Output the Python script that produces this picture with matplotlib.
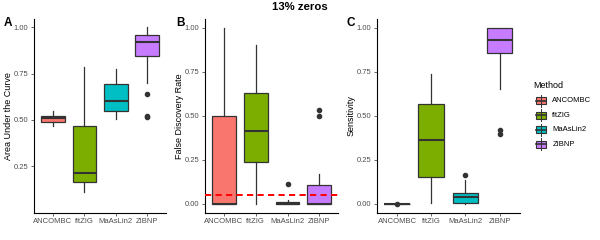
import matplotlib
matplotlib.use("Agg")
import matplotlib.pyplot as plt
from matplotlib.patches import Rectangle

plt.rcParams['font.family'] = ['Liberation Sans', 'DejaVu Sans']

# Methods and their ggplot-style colours
methods = ["ANCOMBC", "fitZIG", "MaAsLin2", "ZIBNP"]
colors = ["#F8766D", "#7CAE00", "#00BFC4", "#C77CFF"]

# Panel A - Area Under the Curve (box summaries)
auc_lo = [0.466, 0.114, 0.507, 0.701]
auc_q1 = [0.490, 0.168, 0.547, 0.844]
auc_med = [0.508, 0.216, 0.604, 0.921]
auc_q3 = [0.523, 0.465, 0.696, 0.958]
auc_hi = [0.550, 0.788, 0.775, 1.000]
auc_out = [[], [], [], [0.641, 0.523, 0.515]]

# Panel B - False Discovery Rate
fdr_lo = [0.0, 0.0, 0.0, 0.0]
fdr_q1 = [0.0, 0.236, 0.0, 0.0]
fdr_med = [0.0, 0.414, 0.0, 0.0]
fdr_q3 = [0.5, 0.627, 0.011, 0.108]
fdr_hi = [1.0, 0.904, 0.023, 0.172]
fdr_out = [[], [], [0.113], [0.533, 0.497]]
fdr_target = 0.05

# Panel C - Sensitivity
sens_lo = [0.0, 0.006, 0.0, 0.652]
sens_q1 = [0.0, 0.153, 0.006, 0.856]
sens_med = [0.0, 0.361, 0.037, 0.928]
sens_q3 = [0.0, 0.567, 0.062, 1.0]
sens_hi = [0.0, 0.739, 0.134, 1.0]
sens_out = [[0.0], [], [0.164], [0.417, 0.399]]

W, H = 600, 240
fig = plt.figure(figsize=(6, 2.4), dpi=100)

EDGE = "#333333"
TICK = "#4D4D4D"


def px_axes(left, right, top, bottom):
    return fig.add_axes([left / W, 1 - bottom / H, (right - left) / W, (bottom - top) / H])


def draw_panel(ax, lo, q1, med, q3, hi, out, ylim):
    stats = []
    for i in range(len(methods)):
        stats.append(dict(whislo=lo[i], q1=q1[i], med=med[i], q3=q3[i],
                          whishi=hi[i], fliers=out[i]))
    bp = ax.bxp(stats, positions=range(1, 5), widths=0.75, patch_artist=True,
                showcaps=False,
                boxprops=dict(edgecolor=EDGE, linewidth=0.9),
                medianprops=dict(color=EDGE, linewidth=1.5, solid_capstyle='butt'),
                whiskerprops=dict(color=EDGE, linewidth=0.9),
                flierprops=dict(marker='o', markerfacecolor=EDGE, markeredgecolor=EDGE,
                                markersize=3, linestyle='none'))
    for patch, c in zip(bp['boxes'], colors):
        patch.set_facecolor(c)
    ax.set_xlim(0.4, 4.6)
    ax.set_ylim(*ylim)
    ax.set_yticks([0.0, 0.25, 0.5, 0.75, 1.0])
    ax.set_xticks(range(1, 5))
    ax.set_xticklabels(methods)
    for s in ['top', 'right']:
        ax.spines[s].set_visible(False)
    for s in ['left', 'bottom']:
        ax.spines[s].set_color('black')
        ax.spines[s].set_linewidth(0.8)
    ax.tick_params(axis='both', labelsize=5.5, labelcolor=TICK, color=TICK,
                   length=2.5, width=0.6, pad=1.5)


axA = px_axes(34, 166, 19, 212.7)
draw_panel(axA, auc_lo, auc_q1, auc_med, auc_q3, auc_hi, auc_out, (0.0697, 1.0443))
axA.set_yticks([0.25, 0.5, 0.75, 1.0])
axA.set_yticklabels(["0.25", "0.50", "0.75", "1.00"])

axB = px_axes(205, 338.3, 19, 212.7)
draw_panel(axB, fdr_lo, fdr_q1, fdr_med, fdr_q3, fdr_hi, fdr_out, (-0.05, 1.05))
axB.set_yticklabels(["0.00", "0.25", "0.50", "0.75", "1.00"])
dash = axB.axhline(fdr_target, color='red', linewidth=1.4, zorder=5)
dash.set_dashes([3.2, 2.2])

axC = px_axes(376.7, 520, 19, 212.7)
draw_panel(axC, sens_lo, sens_q1, sens_med, sens_q3, sens_hi, sens_out, (-0.05, 1.05))
axC.set_yticklabels(["0.00", "0.25", "0.50", "0.75", "1.00"])

# y-axis labels
fig.text(8.5 / W, 1 - 116 / H, "Area Under the Curve", rotation=90, ha='center', va='center', fontsize=6.5)
fig.text(180 / W, 1 - 116 / H, "False Discovery Rate", rotation=90, ha='center', va='center', fontsize=6.5)
fig.text(351 / W, 1 - 116 / H, "Sensitivity", rotation=90, ha='center', va='center', fontsize=6.5)

# panel tags
fig.text(4 / W, 1 - 22.5 / H, "A", fontsize=8.5, fontweight='bold', va='center', ha='left')
fig.text(176 / W, 1 - 22.5 / H, "B", fontsize=8.5, fontweight='bold', va='center', ha='left')
fig.text(346.5 / W, 1 - 22.5 / H, "C", fontsize=8.5, fontweight='bold', va='center', ha='left')

# title
fig.text(300 / W, 1 - 7.5 / H, "13% zeros", fontsize=8.2, fontweight='bold', ha='center', va='center')

# legend drawn by hand in a pixel-space axes
leg = fig.add_axes([0, 0, 1, 1], facecolor='none')
leg.set_xlim(0, W)
leg.set_ylim(H, 0)
leg.axis('off')
leg.text(533.5, 85, "Method", fontsize=6.5, ha='left', va='center')
key_y = [100.7, 115.2, 129.7, 144.2]
for name, c, y in zip(methods, colors, key_y):
    leg.plot([540.5, 540.5], [y - 6, y + 6], color=EDGE, linewidth=0.7)
    leg.add_patch(Rectangle((535.5, y - 3.5), 10, 7, facecolor=c, edgecolor=EDGE, linewidth=0.8))
    leg.plot([535.5, 545.5], [y, y], color=EDGE, linewidth=1.2)
    leg.text(552.3, y, name, fontsize=5.5, ha='left', va='center')

fig.savefig("out.png", dpi=100)
